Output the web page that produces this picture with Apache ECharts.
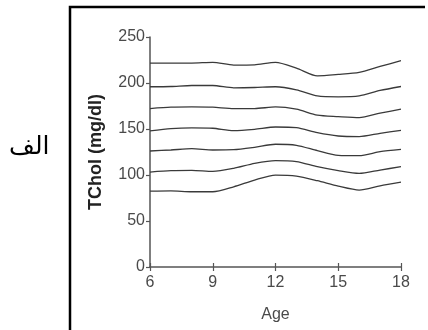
<!DOCTYPE html>
<html>
<head>
<meta charset="utf-8">
<script src="https://cdn.jsdelivr.net/npm/echarts@6/dist/echarts.min.js"></script>
<style>
  html, body { margin: 0; padding: 0; background: #fff; }
  #chart { width: 428px; height: 330px; }
</style>
</head>
<body>
<div id="chart"></div>
<script>
// ages (x) and percentile curves of TChol
const ages = [6, 7, 8, 9, 10, 11, 12, 13, 14, 15, 16, 17, 18];
const p1 = [82.5, 82.8, 81.8, 81.8, 87.2, 94.5, 99.9, 98.8, 93.8, 87.9, 83.6, 88.3, 92.3];
const p2 = [103.2, 104.7, 105, 103.9, 107.2, 112.6, 115.6, 114.5, 109, 104.7, 101.7, 105.4, 109];
const p3 = [126.1, 127.2, 128.6, 127.2, 127.5, 130.1, 133.4, 132.3, 126.5, 121.4, 121, 125.4, 127.9];
const p4 = [147.9, 150.4, 151.2, 150.8, 148.3, 149.7, 152.2, 151.5, 146, 142.4, 141.7, 145.3, 148.6];
const p5 = [172.2, 173.7, 174, 173.7, 172.2, 172.2, 174, 171.5, 165, 163.5, 162.4, 167.2, 171.5];
const p6 = [195.9, 196.2, 197.3, 197.3, 194.8, 195.1, 195.9, 192.6, 186, 185, 186, 191.9, 196.2];
const p7 = [221.7, 221.7, 221.7, 222.4, 219.5, 219.8, 222.4, 216.2, 207.8, 209.3, 211.5, 218, 224.2];
const curves = [p1, p2, p3, p4, p5, p6, p7];

const xTicks = [6, 9, 12, 15, 18];
const yTicks = [0, 50, 100, 150, 200, 250];

const chart = echarts.init(document.getElementById('chart'));
const axisColor = '#555';
const labelColor = '#4a4a4a';
const font = 'Liberation Sans, Arial, sans-serif';

const option = {
  animation: false,
  backgroundColor: '#fff',
  grid: { left: 150, right: 27, top: 37, bottom: 63 },
  xAxis: [
    {
      type: 'value',
      min: 6, max: 18, interval: 3,
      name: 'Age',
      nameLocation: 'middle',
      nameGap: 40,
      nameTextStyle: { color: labelColor, fontSize: 16, fontFamily: font },
      axisLine: { lineStyle: { color: axisColor, width: 1.5 } },
      axisTick: { length: 4, lineStyle: { color: axisColor, width: 1.2 } },
      axisLabel: {
        color: labelColor, fontSize: 16, fontFamily: font, margin: 8,
        formatter: v => xTicks.includes(v) ? String(v) : ''
      },
      splitLine: { show: false }
    },
    {
      type: 'value',
      position: 'bottom',
      min: 6, max: 18, interval: 3,
      axisLine: { show: false },
      axisTick: { inside: true, length: 4, lineStyle: { color: axisColor, width: 1.2 } },
      axisLabel: { show: false },
      splitLine: { show: false }
    }
  ],
  yAxis: {
    type: 'value',
    min: 0, max: 250, interval: 50,
    name: 'TChol (mg/dl)',
    nameLocation: 'middle',
    nameGap: 45,
    nameTextStyle: { color: '#222', fontSize: 18, fontWeight: 'bold', fontFamily: font },
    axisLine: { show: true, lineStyle: { color: axisColor, width: 1.5 } },
    axisTick: { show: true, length: 4, lineStyle: { color: axisColor, width: 1.2 } },
    axisLabel: {
      color: labelColor, fontSize: 16, fontFamily: font, margin: 5,
      formatter: v => yTicks.includes(v) ? String(v) : ''
    },
    splitLine: { show: false }
  },
  series: curves.map((c, i) => ({
    name: 'P' + (i + 1),
    type: 'line',
    xAxisIndex: 0,
    data: ages.map((a, j) => [a, c[j]]),
    symbol: 'none',
    smooth: 0.25,
    lineStyle: { color: '#3a3a3a', width: 1.3 }
  })),
  graphic: [
    {
      type: 'polyline',
      shape: { points: [[70, 330], [70, 7], [425, 7]] },
      style: { stroke: '#000', lineWidth: 2.5, fill: null }
    },
    {
      type: 'text',
      left: 9, top: 135,
      style: { text: 'الف', fontSize: 25, fontFamily: 'DejaVu Sans', fill: '#000' }
    }
  ]
};

chart.setOption(option);
</script>
</body>
</html>
